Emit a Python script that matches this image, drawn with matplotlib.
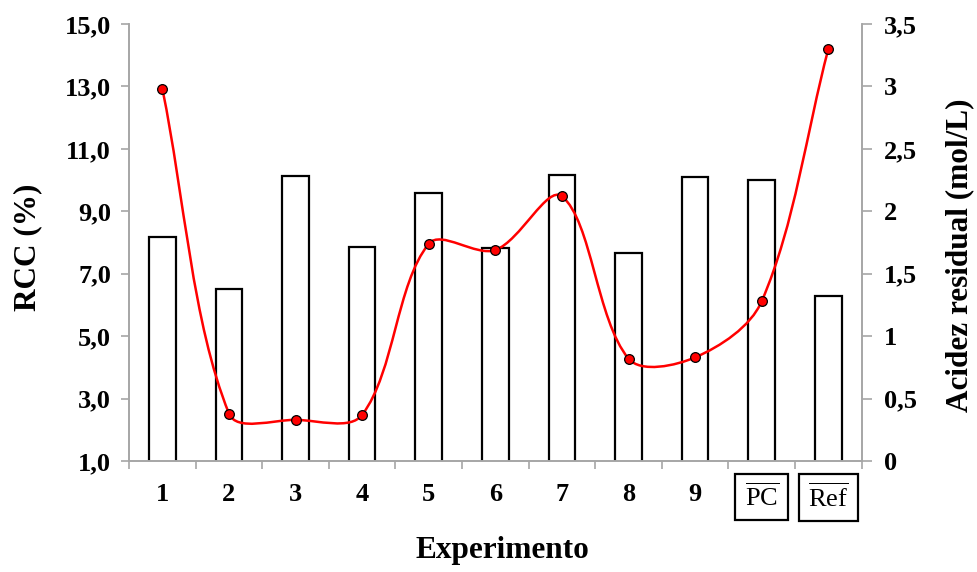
import numpy as np
import matplotlib.pyplot as plt
from matplotlib.path import Path
from matplotlib.patches import PathPatch
from matplotlib.ticker import FixedLocator, FuncFormatter

plt.rcParams["font.family"] = ["Liberation Serif", "DejaVu Serif"]
plt.rcParams["font.weight"] = "bold"
plt.rcParams["mathtext.fontset"] = "custom"
plt.rcParams["mathtext.rm"] = "Liberation Serif:weight=normal"

# data
experiments = ["1", "2", "3", "4", "5", "6", "7", "8", "9", "PC", "Ref"]
rcc = [8.17, 6.52, 10.12, 7.87, 9.59, 7.83, 10.17, 7.67, 10.10, 10.0, 6.30]
acidity = [2.98, 0.38, 0.33, 0.37, 1.74, 1.69, 2.12, 0.82, 0.83, 1.28, 3.30]
rcc_ticks = [1, 3, 5, 7, 9, 11, 13, 15]
acid_ticks = [0, 0.5, 1, 1.5, 2, 2.5, 3, 3.5]

GRAY = "#a6a6a6"


def smooth_path(ax, xs, ys, f=1 / 3):
    """Excel-like smoothed line: bezier segments built in display space."""
    pts = ax.transData.transform(np.column_stack([xs, ys]))
    n = len(pts)
    verts = [pts[0]]
    codes = [Path.MOVETO]
    for i in range(n - 1):
        p0 = pts[max(i - 1, 0)]
        p1 = pts[i]
        p2 = pts[i + 1]
        p3 = pts[min(i + 2, n - 1)]
        d01 = np.hypot(*(p1 - p0))
        d12 = np.hypot(*(p2 - p1))
        d23 = np.hypot(*(p3 - p2))
        c1 = p1 + (p2 - p0) * f * d12 / (d01 + d12)
        c2 = p2 - (p3 - p1) * f * d12 / (d12 + d23)
        verts += [c1, c2, p2]
        codes += [Path.CURVE4] * 3
    verts = ax.transData.inverted().transform(np.array(verts))
    return Path(verts, codes)


fig, ax = plt.subplots(figsize=(9.78, 5.72), dpi=100)
fig.subplots_adjust(left=0.132, right=0.881, bottom=0.194, top=0.958)
ax2 = ax.twinx()

x = np.arange(1, len(experiments) + 1)
ax.bar(x, rcc, width=0.4, color="white", edgecolor="black", linewidth=1.6, zorder=2)
ax.set_xlim(0.5, len(experiments) + 0.5)
ax.set_ylim(1, 15)
ax2.set_ylim(0, 3.5)

# y axes
ax.set_yticks(rcc_ticks)
ax.yaxis.set_major_formatter(FuncFormatter(lambda v, _: f"{v:.1f}".replace(".", ",")))
ax2.set_yticks(acid_ticks)
ax2.yaxis.set_major_formatter(FuncFormatter(lambda v, _: f"{v:g}".replace(".", ",")))
ax.tick_params(axis="y", length=6, width=1.2, color=GRAY, labelsize=19, pad=7)
ax2.tick_params(axis="y", length=7, width=1.2, color=GRAY, labelsize=19, pad=9)

# x axis: labels at centres, tick marks at category borders
ax.set_xticks(x)
labels = experiments[:9] + [r"$\overline{\mathrm{PC}}$", r"$\overline{\mathrm{Ref}}$"]
ticklabels = ax.set_xticklabels(labels)
for lbl in ticklabels[9:]:
    lbl.set_fontweight("normal")
    lbl.set_fontsize(13)
    lbl.set_bbox(dict(boxstyle="square,pad=0.35", facecolor="white",
                      edgecolor="black", linewidth=1.6))
ax.xaxis.set_minor_locator(FixedLocator(np.arange(0.5, len(experiments) + 1, 1)))
ax.tick_params(axis="x", which="major", length=0, labelsize=19, pad=16)
ax.tick_params(axis="x", which="minor", length=6, width=1.2, color=GRAY)

for a in (ax, ax2):
    a.spines["top"].set_visible(False)
    for s in ("left", "right", "bottom"):
        a.spines[s].set_color(GRAY)
        a.spines[s].set_linewidth(1.2)

# smoothed acidity line with markers
ax2.add_patch(PathPatch(smooth_path(ax2, x, acidity), facecolor="none",
                        edgecolor="red", linewidth=1.8, zorder=3))
ax2.plot(x, acidity, "o", markersize=7, markerfacecolor="red",
         markeredgecolor="black", markeredgewidth=0.9, zorder=4)

ax.set_ylabel("RCC (%)", fontsize=22.5, fontweight="bold", va="center")
ax.yaxis.set_label_coords(-0.138, 0.49)
ax2.set_ylabel("Acidez residual (mol/L)", fontsize=22.5, fontweight="bold",
               rotation=90, va="center")
ax2.yaxis.set_label_coords(1.134, 0.47)
ax.set_xlabel("Experimento", fontsize=22.5, fontweight="bold", va="center")
ax.xaxis.set_label_coords(0.51, -0.204)

plt.savefig("out.png", dpi=100)
plt.close()
